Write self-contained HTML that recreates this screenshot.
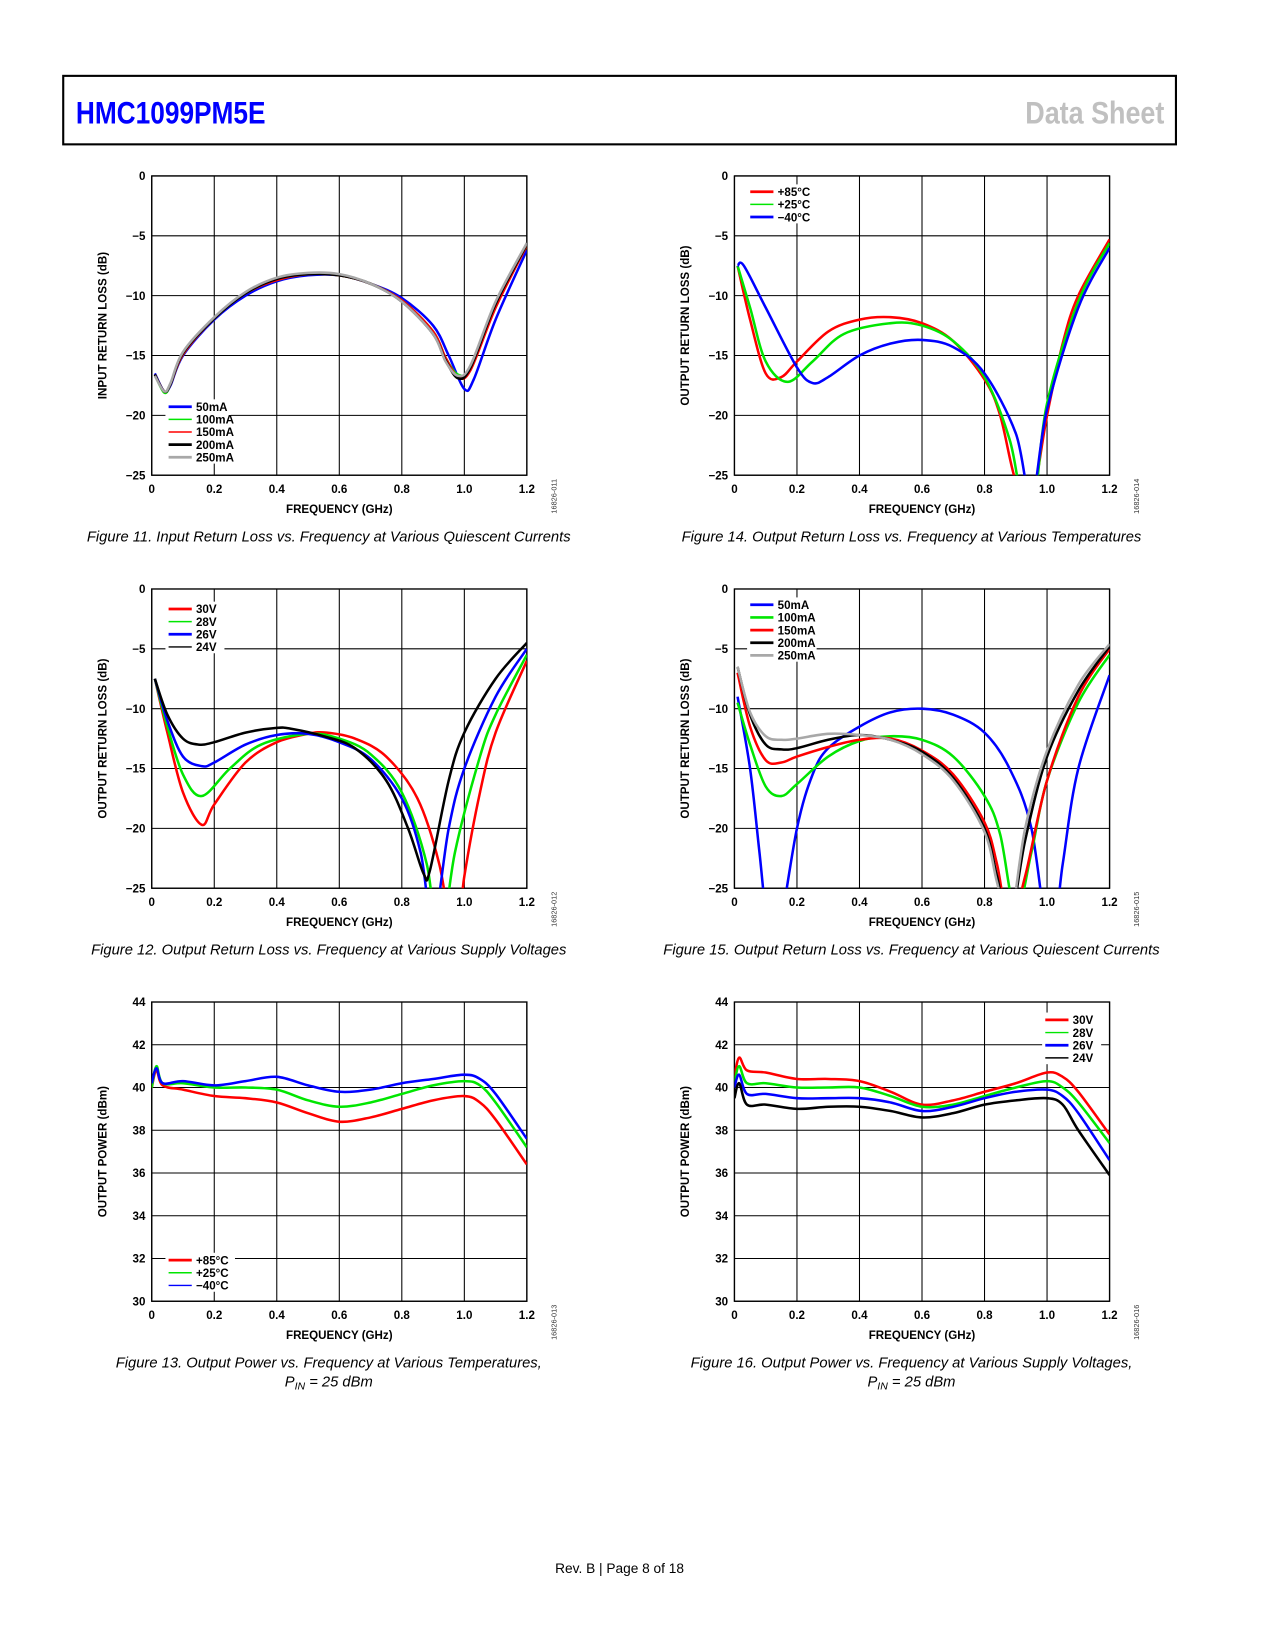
<!DOCTYPE html>
<html><head><meta charset="utf-8"><style>
html,body{margin:0;padding:0;background:#fff;}
svg{display:block;font-family:"Liberation Sans",sans-serif;}
</style></head><body>
<svg id="page" width="1275" height="1650" viewBox="0 0 1210 1566" preserveAspectRatio="none" xmlns="http://www.w3.org/2000/svg">
<rect x="60" y="72" width="1056" height="65" fill="none" stroke="#000" stroke-width="2"/>
<text x="72" y="117" font-size="30" font-weight="bold" fill="#0000ff" textLength="180" lengthAdjust="spacingAndGlyphs">HMC1099PM5E</text>
<text x="1105" y="117" font-size="30" font-weight="bold" fill="#c0c0c0" text-anchor="end" textLength="132" lengthAdjust="spacingAndGlyphs">Data Sheet</text>
<text x="588" y="1493" font-size="13" text-anchor="middle">Rev. B | Page 8 of 18</text>
<g id="charts"></g>
</svg>
<script>
// ---- Figure 11 data (input return loss vs quiescent current)
const f11_x_a = [0.01,0.04,0.06,0.1,0.2,0.3,0.4,0.5,0.6,0.7,0.8,0.9,0.95,1.0,1.03,1.1,1.2];
const f11_50mA = [-16.5,-18,-17.5,-15,-12,-10,-8.8,-8.3,-8.3,-9,-10.2,-12.5,-15,-17.8,-17,-12,-6.2];
const f11_x_b = [0.01,0.04,0.06,0.1,0.2,0.3,0.4,0.5,0.6,0.7,0.8,0.9,0.94,0.98,1.02,1.1,1.2];
const f11_100mA = [-16.6,-18.1,-17.4,-14.9,-11.9,-9.8,-8.7,-8.2,-8.3,-9,-10.4,-13,-15.2,-16.6,-16,-10.8,-5.8];
const f11_150mA = [-16.6,-18,-17.4,-14.9,-11.9,-9.8,-8.7,-8.2,-8.3,-9,-10.4,-13,-15.2,-16.8,-16.2,-11,-5.8];
const f11_200mA = [-16.6,-18,-17.4,-14.8,-11.9,-9.8,-8.6,-8.2,-8.3,-9,-10.5,-13.2,-15.4,-16.9,-16,-10.7,-5.7];
const f11_250mA = [-16.7,-18,-17.3,-14.7,-11.8,-9.7,-8.5,-8.1,-8.2,-9,-10.5,-13.2,-15.5,-16.7,-15.8,-10.5,-5.6];
// ---- Figure 14 data (output return loss vs temperature)
const f14_x_p85 = [0.01,0.05,0.1,0.15,0.2,0.3,0.4,0.5,0.6,0.7,0.8,0.85,0.9,0.95,1.0,1.05,1.1,1.2];
const f14_p85 = [-7.5,-12,-16.5,-16.8,-15.5,-13,-12,-11.8,-12.3,-13.8,-17,-20,-25.5,-27,-20,-14,-10,-5.3];
const f14_x_p25 = [0.01,0.05,0.1,0.17,0.25,0.35,0.5,0.6,0.7,0.8,0.88,0.92,0.96,1.0,1.1,1.2];
const f14_p25 = [-7.5,-11,-15.5,-17.2,-15.5,-13.2,-12.3,-12.5,-13.8,-16.8,-22,-27,-27,-19,-10.5,-5.6];
const f14_x_m40 = [0.01,0.03,0.1,0.2,0.25,0.3,0.4,0.5,0.6,0.7,0.8,0.9,0.95,1.0,1.1,1.2];
const f14_m40 = [-7.5,-7.5,-11,-16,-17.3,-16.8,-15,-14,-13.7,-14.3,-16.5,-21.5,-27,-19.5,-11,-6];
// ---- Figure 12 data (output return loss vs supply voltage)
const f12_x_30 = [0.01,0.05,0.1,0.16,0.2,0.3,0.4,0.5,0.56,0.65,0.75,0.85,0.92,0.97,1.0,1.05,1.1,1.2];
const f12_30V = [-7.5,-12,-17,-19.7,-18,-14.5,-12.8,-12.1,-12,-12.5,-14,-17.5,-23,-30,-24,-17,-12,-6];
const f12_x_28 = [0.01,0.05,0.1,0.16,0.25,0.35,0.5,0.6,0.7,0.8,0.88,0.92,0.97,1.05,1.1,1.2];
const f12_28V = [-7.5,-11.5,-15.5,-17.3,-15,-13,-12.1,-12.5,-13.8,-17,-23,-30,-22,-14,-10.5,-5.5];
const f12_x_26 = [0.01,0.05,0.1,0.16,0.2,0.3,0.4,0.5,0.6,0.7,0.8,0.86,0.9,0.95,1.0,1.1,1.2];
const f12_26V = [-7.5,-11,-14,-14.8,-14.5,-13,-12.2,-12.1,-12.8,-14.2,-17.5,-22,-28,-20,-15,-9,-5];
const f12_x_24 = [0.01,0.05,0.1,0.15,0.2,0.3,0.4,0.45,0.55,0.65,0.75,0.82,0.87,0.89,0.95,1.0,1.1,1.2];
const f12_24V = [-7.5,-10.5,-12.5,-13,-12.8,-12,-11.6,-11.7,-12.3,-13.3,-16,-20,-23.8,-23.5,-16,-12,-7.5,-4.5];
// ---- Figure 15 data (output return loss vs quiescent current)
const f15_x_50 = [0.01,0.05,0.08,0.11,0.14,0.2,0.25,0.3,0.4,0.5,0.6,0.7,0.8,0.88,0.95,1.01,1.05,1.1,1.2];
const f15_50mA = [-9,-15,-22,-29,-29,-20,-15.5,-13.3,-11.5,-10.3,-10,-10.5,-12,-15,-20,-30,-23,-15,-7.2];
const f15_x_b = [0.01,0.05,0.1,0.15,0.2,0.3,0.4,0.5,0.6,0.7,0.8,0.85,0.9,0.95,1.0,1.1,1.2];
const f15_100mA = [-9.5,-13,-16.5,-17.3,-16.3,-14,-12.7,-12.3,-12.6,-14,-17.3,-20.5,-27,-22,-16,-9.5,-5.5];
const f15_x_c = [0.01,0.05,0.1,0.15,0.2,0.3,0.4,0.5,0.6,0.7,0.8,0.84,0.88,0.93,1.0,1.1,1.2];
const f15_150mA = [-7,-11.5,-14.3,-14.5,-14,-13.2,-12.6,-12.5,-13.5,-15.5,-19.5,-23,-28,-24,-16,-9,-5];
const f15_200mA = [-6.5,-10.5,-13,-13.4,-13.3,-12.6,-12.2,-12.6,-13.6,-15.8,-20,-24,-28,-21,-14,-8.5,-4.8];
const f15_250mA = [-6.5,-10.3,-12.3,-12.6,-12.5,-12.1,-12.2,-12.6,-13.8,-16,-20.3,-24.5,-28,-20,-13.5,-8,-4.6];
// ---- Figure 13 data (output power vs temperature)
const f13_x = [0.0,0.015,0.035,0.1,0.2,0.3,0.4,0.5,0.6,0.7,0.8,0.9,1.0,1.05,1.1,1.2];
const f13_p85 = [40,40.8,40.1,39.9,39.6,39.5,39.3,38.8,38.4,38.6,39.0,39.4,39.6,39.3,38.5,36.4];
const f13_p25 = [40,41,40.2,40.2,40.0,40.0,39.9,39.4,39.1,39.3,39.7,40.1,40.3,40.1,39.3,37.2];
const f13_m40 = [40.2,40.9,40.2,40.3,40.1,40.3,40.5,40.1,39.8,39.9,40.2,40.4,40.6,40.4,39.7,37.6];
// ---- Figure 16 data (output power vs supply voltage)
const f16_x = [0.0,0.015,0.04,0.1,0.2,0.3,0.4,0.5,0.6,0.7,0.8,0.9,1.0,1.05,1.1,1.2];
const f16_30V = [40.5,41.4,40.8,40.7,40.4,40.4,40.3,39.8,39.2,39.4,39.8,40.2,40.7,40.5,39.8,37.8];
const f16_28V = [40.2,41,40.2,40.2,40.0,40.0,40.0,39.6,39.1,39.2,39.6,40.0,40.3,40.0,39.3,37.4];
const f16_26V = [40,40.6,39.7,39.7,39.5,39.5,39.5,39.3,38.9,39.1,39.5,39.8,39.9,39.6,38.8,36.6];
const f16_24V = [39.5,40.2,39.2,39.2,39.0,39.1,39.1,38.9,38.6,38.8,39.2,39.4,39.5,39.2,38.0,35.9];

const xTicks = [0,0.2,0.4,0.6,0.8,1.0,1.2];
const xTickLabels = ["0","0.2","0.4","0.6","0.8","1.0","1.2"];
const rlTicks = [0,-5,-10,-15,-20,-25];
const rlTickLabels = ["0","\u22125","\u221210","\u221215","\u221220","\u221225"];
const pwTicks = [44,42,40,38,36,34,32,30];
const pwTickLabels = ["44","42","40","38","36","34","32","30"];

const RED="#ff0000",GRN="#00e600",BLU="#0000ff",BLK="#000000",GRY="#a8a8a8";
const NS="http://www.w3.org/2000/svg";
const root=document.getElementById('charts');
function mk(tag,attrs,parent){const e=document.createElementNS(NS,tag);for(const k in attrs)e.setAttribute(k,attrs[k]);(parent||root).appendChild(e);return e;}
function smooth(pts){let d="M"+pts[0][0]+","+pts[0][1];for(let i=0;i<pts.length-1;i++){const p0=pts[i-1]||pts[i],p1=pts[i],p2=pts[i+1],p3=pts[i+2]||p2;const c1=[p1[0]+(p2[0]-p0[0])/6,p1[1]+(p2[1]-p0[1])/6],c2=[p2[0]-(p3[0]-p1[0])/6,p2[1]-(p3[1]-p1[1])/6];d+=" C"+c1[0]+","+c1[1]+" "+c2[0]+","+c2[1]+" "+p2[0]+","+p2[1];}return d;}
let cid=0;
function chart(c){
  const g=mk('g',{});
  
  
  const L=c.x,T=c.y,W=356,H=284;
  const ymin=c.yt[c.yt.length-1],ymax=c.yt[0];
  const sx=v=>L+v/1.2*W, sy=v=>T+(ymax-v)/(ymax-ymin)*H;
  c.yt.forEach((t,i)=>{const yy=sy(t);
    const gl=mk('line',{x1:L,x2:L+W,y1:yy,y2:yy,stroke:'#000','stroke-width':1},g);
    
    
    const tl=mk('text',{x:L-6,y:yy+4,'font-size':11,'font-weight':'bold','text-anchor':'end'},g);tl.textContent=c.yl[i];
    
    });
  xTicks.forEach((t,i)=>{const xx=sx(t);
    const gl=mk('line',{x1:xx,x2:xx,y1:T,y2:T+H,stroke:'#000','stroke-width':1},g);
    
    
    const tl=mk('text',{x:xx,y:T+H+17,'font-size':11,'font-weight':'bold','text-anchor':'middle'},g);tl.textContent=xTickLabels[i];
    
    });
  const frame=mk('rect',{x:L,y:T,width:W,height:H,fill:'none',stroke:'#000','stroke-width':1.3},g);
  
  
  const xt=mk('text',{x:L+W/2,y:T+H+36,'font-size':11,'font-weight':'bold','text-anchor':'middle'},g);xt.textContent="FREQUENCY (GHz)";
  
  
  const yt=mk('text',{x:0,y:0,'font-size':11,'font-weight':'bold','text-anchor':'middle',transform:`translate(${L-43},${T+H/2}) rotate(-90)`},g);yt.textContent=c.ytitle;
  
  
  const code=mk('text',{x:0,y:0,'font-size':7,'text-anchor':'middle',fill:'#333',transform:`translate(${L+W+28},${T+H+20}) rotate(-90)`},g);code.textContent=c.code;
  
  
  const id='clip'+(cid++);
  const cp=mk('clipPath',{id:id},g);mk('rect',{x:L,y:T,width:W,height:H},cp);
  const sg=mk('g',{'clip-path':`url(#${id})`},g);
  c.series.forEach(s=>{
    const p=mk('path',{d:smooth(s.xs.map((v,i)=>[sx(v),sy(s.ys[i])])),fill:'none',stroke:s.col,'stroke-width':2.4,'stroke-linejoin':'round'},sg);
    
    
  });
  const lg=mk('g',{},g);
  
  
  const n=c.series.length;
  mk('rect',{x:c.lx-3,y:c.ly-7,width:c.lw,height:n*12+1,fill:'#fff'},lg);
  c.series.forEach((s,i)=>{const yy=c.ly+i*12;
    mk('line',{x1:c.lx,x2:c.lx+22,y1:yy,y2:yy,stroke:s.col,'stroke-width':s.thin?1.4:2.6},lg);
    const t=mk('text',{x:c.lx+26,y:yy+4,'font-size':11,'font-weight':'bold'},lg);t.textContent=s.label;
    
    });
  c.cap.forEach((line,i)=>{const t=mk('text',{x:L+W/2-10,y:T+H+63+i*18,'font-size':14,'font-style':'italic','text-anchor':'middle'},g);t.innerHTML=line;
    
    });
}
const RLT="INPUT RETURN LOSS (dB)",ORT="OUTPUT RETURN LOSS (dB)",OPT="OUTPUT POWER (dBm)";
chart({name:'figure-11-chart',x:144,y:167,yt:rlTicks,yl:rlTickLabels,ytitle:RLT,code:'16826-011',lx:160,ly:386,lw:62,
 cap:["Figure 11. Input Return Loss vs. Frequency at Various Quiescent Currents"],
 series:[{label:'50mA',col:BLU,xs:f11_x_a,ys:f11_50mA},{label:'100mA',col:GRN,xs:f11_x_b,ys:f11_100mA,thin:1},{label:'150mA',col:RED,xs:f11_x_b,ys:f11_150mA,thin:1},{label:'200mA',col:BLK,xs:f11_x_b,ys:f11_200mA},{label:'250mA',col:GRY,xs:f11_x_b,ys:f11_250mA}]});
chart({name:'figure-14-chart',x:697,y:167,yt:rlTicks,yl:rlTickLabels,ytitle:ORT,code:'16826-014',lx:712,ly:182,lw:66,
 cap:["Figure 14. Output Return Loss vs. Frequency at Various Temperatures"],
 series:[{label:'+85°C',col:RED,xs:f14_x_p85,ys:f14_p85},{label:'+25°C',col:GRN,xs:f14_x_p25,ys:f14_p25,thin:1},{label:'\u221240°C',col:BLU,xs:f14_x_m40,ys:f14_m40}]});
chart({name:'figure-12-chart',x:144,y:559,yt:rlTicks,yl:rlTickLabels,ytitle:ORT,code:'16826-012',lx:160,ly:578,lw:56,
 cap:["Figure 12. Output Return Loss vs. Frequency at Various Supply Voltages"],
 series:[{label:'30V',col:RED,xs:f12_x_30,ys:f12_30V},{label:'28V',col:GRN,xs:f12_x_28,ys:f12_28V,thin:1},{label:'26V',col:BLU,xs:f12_x_26,ys:f12_26V},{label:'24V',col:BLK,xs:f12_x_24,ys:f12_24V,thin:1}]});
chart({name:'figure-15-chart',x:697,y:559,yt:rlTicks,yl:rlTickLabels,ytitle:ORT,code:'16826-015',lx:712,ly:574,lw:66,
 cap:["Figure 15. Output Return Loss vs. Frequency at Various Quiescent Currents"],
 series:[{label:'50mA',col:BLU,xs:f15_x_50,ys:f15_50mA},{label:'100mA',col:GRN,xs:f15_x_b,ys:f15_100mA},{label:'150mA',col:RED,xs:f15_x_c,ys:f15_150mA},{label:'200mA',col:BLK,xs:f15_x_c,ys:f15_200mA},{label:'250mA',col:GRY,xs:f15_x_c,ys:f15_250mA}]});
chart({name:'figure-13-chart',x:144,y:951,yt:pwTicks,yl:pwTickLabels,ytitle:OPT,code:'16826-013',lx:160,ly:1196,lw:66,
 cap:["Figure 13. Output Power vs. Frequency at Various Temperatures,","P<tspan font-size='10' dy='3'>IN</tspan><tspan dy='-3'> = 25 dBm</tspan>"],
 series:[{label:'+85°C',col:RED,xs:f13_x,ys:f13_p85},{label:'+25°C',col:GRN,xs:f13_x,ys:f13_p25,thin:1},{label:'\u221240°C',col:BLU,xs:f13_x,ys:f13_m40,thin:1}]});
chart({name:'figure-16-chart',x:697,y:951,yt:pwTicks,yl:pwTickLabels,ytitle:OPT,code:'16826-016',lx:992,ly:968,lw:56,
 cap:["Figure 16. Output Power vs. Frequency at Various Supply Voltages,","P<tspan font-size='10' dy='3'>IN</tspan><tspan dy='-3'> = 25 dBm</tspan>"],
 series:[{label:'30V',col:RED,xs:f16_x,ys:f16_30V},{label:'28V',col:GRN,xs:f16_x,ys:f16_28V,thin:1},{label:'26V',col:BLU,xs:f16_x,ys:f16_26V},{label:'24V',col:BLK,xs:f16_x,ys:f16_24V,thin:1}]});
</script>
</body></html>
